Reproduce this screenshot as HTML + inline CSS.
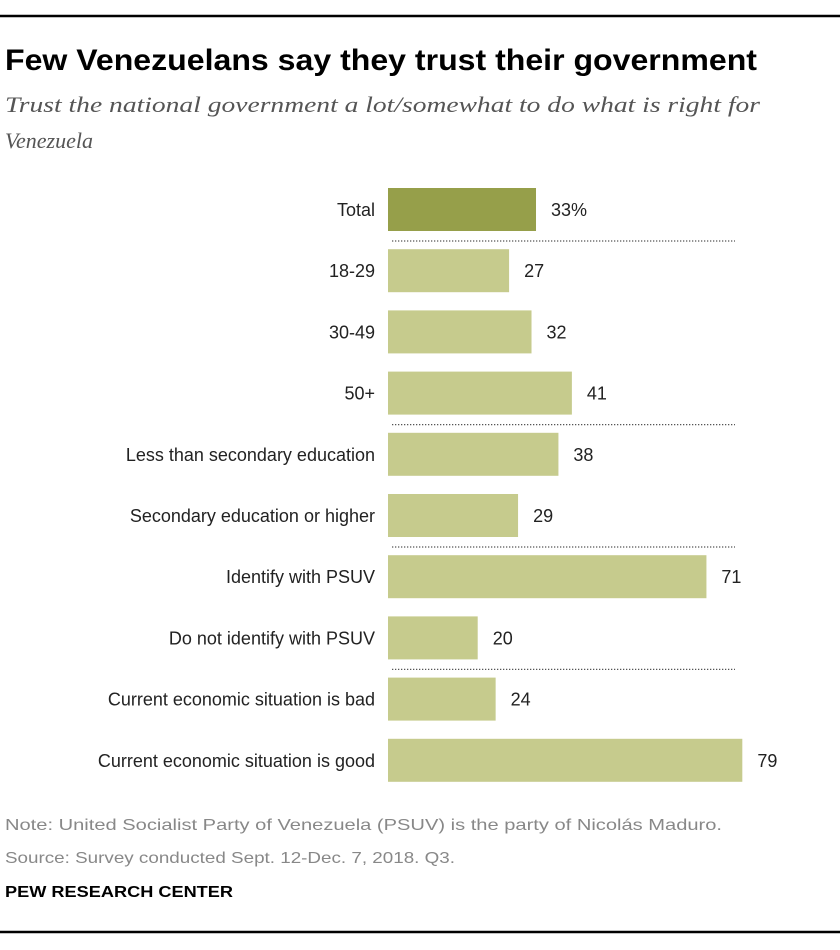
<!DOCTYPE html>
<html><head><meta charset="utf-8"><style>
html,body{margin:0;padding:0;background:#fff;}
svg{display:block;}
</style></head><body>
<svg id="chart" width="840" height="950" xmlns="http://www.w3.org/2000/svg">
<line x1="0" y1="16" x2="840" y2="16" stroke="#000" stroke-width="2.5"/>
<text x="5" y="70" font-family="Liberation Sans, sans-serif" font-weight="bold" font-size="30" textLength="752" lengthAdjust="spacingAndGlyphs" fill="#000">Few Venezuelans say they trust their government</text>
<text x="5" y="112" font-family="Liberation Serif, serif" font-style="italic" font-size="22" textLength="755" lengthAdjust="spacingAndGlyphs" fill="#555">Trust the national government a lot/somewhat to do what is right for</text>
<text x="5" y="148" font-family="Liberation Serif, serif" font-style="italic" font-size="22" fill="#555">Venezuela</text>
<g id="bars"></g>
<text x="5" y="830" font-family="Liberation Sans, sans-serif" font-size="16" textLength="717" lengthAdjust="spacingAndGlyphs" fill="#888">Note: United Socialist Party of Venezuela (PSUV) is the party of Nicolás Maduro.</text>
<text x="5" y="863" font-family="Liberation Sans, sans-serif" font-size="16" textLength="450" lengthAdjust="spacingAndGlyphs" fill="#888">Source: Survey conducted Sept. 12-Dec. 7, 2018. Q3.</text>
<text x="5" y="897" font-family="Liberation Sans, sans-serif" font-weight="bold" font-size="16" textLength="228" lengthAdjust="spacingAndGlyphs" fill="#000">PEW RESEARCH CENTER</text>
<line x1="0" y1="932" x2="840" y2="932" stroke="#000" stroke-width="2.5"/>
</svg>
<script>
const categories = ["Total","18-29","30-49","50+","Less than secondary education","Secondary education or higher","Identify with PSUV","Do not identify with PSUV","Current economic situation is bad","Current economic situation is good"];
const values = [33,27,32,41,38,29,71,20,24,79];
const valueLabels = ["33%","27","32","41","38","29","71","20","24","79"];
const separatorsAfter = [0,3,5,7];
const NS = "http://www.w3.org/2000/svg";
const g = document.getElementById("bars");
const x0 = 388, pxPerUnit = 4.485;
const xScale = v => x0 + v * pxPerUnit;
const yTop = i => 188 + i * 61.2;
const barH = 43;
categories.forEach((c, i) => {
  const y = yTop(i);
  const r = document.createElementNS(NS, "rect");
  r.setAttribute("x", x0); r.setAttribute("y", y);
  r.setAttribute("width", xScale(values[i]) - x0); r.setAttribute("height", barH);
  r.setAttribute("fill", i === 0 ? "#969f4a" : "#c6cb8d");
  
  
  g.appendChild(r);
  const l = document.createElementNS(NS, "text");
  l.setAttribute("x", 375); l.setAttribute("y", y + barH/2 + 6.5);
  l.setAttribute("text-anchor", "end");
  l.setAttribute("font-family", "Liberation Sans, sans-serif");
  l.setAttribute("font-size", "18"); l.setAttribute("fill", "#222");
  l.textContent = c;
  
  
  g.appendChild(l);
  const v = document.createElementNS(NS, "text");
  v.setAttribute("x", xScale(values[i]) + 15); v.setAttribute("y", y + barH/2 + 6.5);
  v.setAttribute("font-family", "Liberation Sans, sans-serif");
  v.setAttribute("font-size", "18"); v.setAttribute("fill", "#222");
  v.textContent = valueLabels[i];
  
  
  g.appendChild(v);
});
separatorsAfter.forEach(i => {
  const y = yTop(i) + barH + 10;
  const ln = document.createElementNS(NS, "line");
  ln.setAttribute("x1", 392); ln.setAttribute("x2", 735);
  ln.setAttribute("y1", y); ln.setAttribute("y2", y);
  ln.setAttribute("stroke", "#555"); ln.setAttribute("stroke-width", "1.3");
  ln.setAttribute("stroke-dasharray", "1.3 1.7");
  
  
  g.appendChild(ln);
});
</script>
</body></html>
